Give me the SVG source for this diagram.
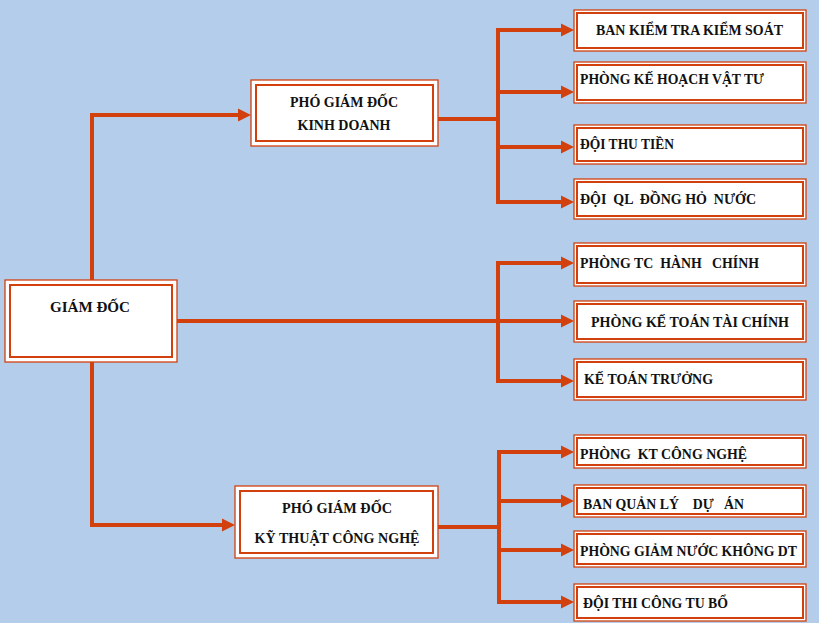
<svg xmlns="http://www.w3.org/2000/svg" width="819" height="623" viewBox="0 0 819 623">
<style>
.bg{fill:#B4CDEB}
.o{fill:#fff;stroke:#D2400E;stroke-width:1.3}
.i{fill:none;stroke:#D2400E;stroke-width:2}
.c{fill:none;stroke:#D2400E;stroke-width:4}
text{font-family:"Liberation Serif","Times New Roman",serif;font-weight:bold;font-size:14px;fill:#111}
.m{text-anchor:middle}
</style>
<defs>
<marker id="ah" markerUnits="userSpaceOnUse" markerWidth="14" markerHeight="14" viewBox="0 0 14 14" refX="0" refY="7" orient="auto">
<path d="M0,0.5 L13,7 L0,13.5 Z" fill="#D2400E"/>
</marker>
</defs>
<rect class="bg" x="0" y="0" width="819" height="623"/>
<g id="connectors">
<path class="c" d="M92,280 V115 H238" marker-end="url(#ah)"/>
<path class="c" d="M92,362 V525 H222" marker-end="url(#ah)"/>
<path class="c" d="M177,321 H561" marker-end="url(#ah)"/>
<path class="c" d="M498,263 V381"/>
<path class="c" d="M496,263 H561" marker-end="url(#ah)"/>
<path class="c" d="M496,381 H561" marker-end="url(#ah)"/>
<path class="c" d="M438,119 H498"/>
<path class="c" d="M498,30 V202"/>
<path class="c" d="M496,30 H561" marker-end="url(#ah)"/>
<path class="c" d="M498,92 H561" marker-end="url(#ah)"/>
<path class="c" d="M498,147 H561" marker-end="url(#ah)"/>
<path class="c" d="M496,202 H561" marker-end="url(#ah)"/>
<path class="c" d="M438,527 H499"/>
<path class="c" d="M499,451 V602"/>
<path class="c" d="M497,452 H561" marker-end="url(#ah)"/>
<path class="c" d="M499,501 H561" marker-end="url(#ah)"/>
<path class="c" d="M499,550 H561" marker-end="url(#ah)"/>
<path class="c" d="M497,602 H561" marker-end="url(#ah)"/>
</g>
<g id="giam-doc">
<rect class="o" x="5" y="280" width="172" height="82"/>
<rect class="i" x="10" y="285" width="162" height="72"/>
<text class="m" x="90" y="312" textLength="80" lengthAdjust="spacingAndGlyphs">GIÁM ĐỐC</text>
</g>
<g id="pgd-kd">
<rect class="o" x="251" y="80" width="187" height="66"/>
<rect class="i" x="256" y="85" width="177" height="56"/>
<text class="m" x="344" y="107" textLength="108" lengthAdjust="spacingAndGlyphs">PHÓ GIÁM ĐỐC</text>
<text class="m" x="344" y="130" textLength="93" lengthAdjust="spacingAndGlyphs">KINH DOANH</text>
</g>
<g id="pgd-kt">
<rect class="o" x="235" y="486" width="203" height="72"/>
<rect class="i" x="240" y="491" width="193" height="62"/>
<text class="m" x="337" y="513" textLength="110" lengthAdjust="spacingAndGlyphs">PHÓ GIÁM ĐỐC</text>
<text class="m" x="337" y="543" textLength="165" lengthAdjust="spacingAndGlyphs">KỸ THUẬT CÔNG NGHỆ</text>
</g>
<g id="ban-kiem-tra">
<rect class="o" x="574" y="10" width="232" height="41"/>
<rect class="i" x="577" y="13" width="226" height="35"/>
<text x="596" y="35" textLength="187" lengthAdjust="spacingAndGlyphs">BAN KIỂM TRA KIỂM SOÁT</text>
</g>
<g id="phong-ke-hoach">
<rect class="o" x="574" y="62" width="232" height="41"/>
<rect class="i" x="577" y="65" width="226" height="35"/>
<text x="580" y="84" textLength="184" lengthAdjust="spacingAndGlyphs">PHÒNG KẾ HOẠCH VẬT TƯ</text>
</g>
<g id="doi-thu-tien">
<rect class="o" x="574" y="125" width="232" height="39"/>
<rect class="i" x="577" y="128" width="226" height="33"/>
<text x="580" y="149" textLength="94" lengthAdjust="spacingAndGlyphs">ĐỘI THU TIỀN</text>
</g>
<g id="doi-ql">
<rect class="o" x="574" y="179" width="232" height="40"/>
<rect class="i" x="577" y="182" width="226" height="34"/>
<text x="580" y="204" textLength="176" lengthAdjust="spacingAndGlyphs" xml:space="preserve">ĐỘI  QL  ĐỒNG HỎ  NƯỚC</text>
</g>
<g id="phong-tc">
<rect class="o" x="574" y="243" width="232" height="43"/>
<rect class="i" x="577" y="246" width="226" height="37"/>
<text x="580" y="268" textLength="179" lengthAdjust="spacingAndGlyphs" xml:space="preserve">PHÒNG TC  HÀNH   CHÍNH</text>
</g>
<g id="phong-ke-toan">
<rect class="o" x="574" y="301" width="232" height="41"/>
<rect class="i" x="577" y="304" width="226" height="35"/>
<text x="591" y="327" textLength="198" lengthAdjust="spacingAndGlyphs">PHÒNG KẾ TOÁN TÀI CHÍNH</text>
</g>
<g id="ke-toan-truong">
<rect class="o" x="574" y="359" width="232" height="41"/>
<rect class="i" x="577" y="362" width="226" height="35"/>
<text x="584" y="384" textLength="129" lengthAdjust="spacingAndGlyphs">KẾ TOÁN TRƯỞNG</text>
</g>
<g id="phong-kt">
<rect class="o" x="574" y="435" width="232" height="33"/>
<rect class="i" x="577" y="438" width="226" height="27"/>
<text x="580" y="459" textLength="167" lengthAdjust="spacingAndGlyphs" xml:space="preserve">PHÒNG  KT CÔNG NGHỆ</text>
</g>
<g id="ban-quan-ly">
<rect class="o" x="574" y="485" width="232" height="32"/>
<rect class="i" x="577" y="488" width="226" height="26"/>
<text x="583" y="509" textLength="161" lengthAdjust="spacingAndGlyphs" xml:space="preserve">BAN QUẢN LÝ    DỰ   ÁN</text>
</g>
<g id="phong-giam-nuoc">
<rect class="o" x="574" y="531" width="232" height="36"/>
<rect class="i" x="577" y="534" width="226" height="30"/>
<text x="580" y="556" textLength="217" lengthAdjust="spacingAndGlyphs">PHÒNG GIẢM NƯỚC KHÔNG DT</text>
</g>
<g id="doi-thi-cong">
<rect class="o" x="574" y="584" width="232" height="37"/>
<rect class="i" x="577" y="587" width="226" height="31"/>
<text x="583" y="608" textLength="145" lengthAdjust="spacingAndGlyphs">ĐỘI THI CÔNG TU BỔ</text>
</g>
</svg>
